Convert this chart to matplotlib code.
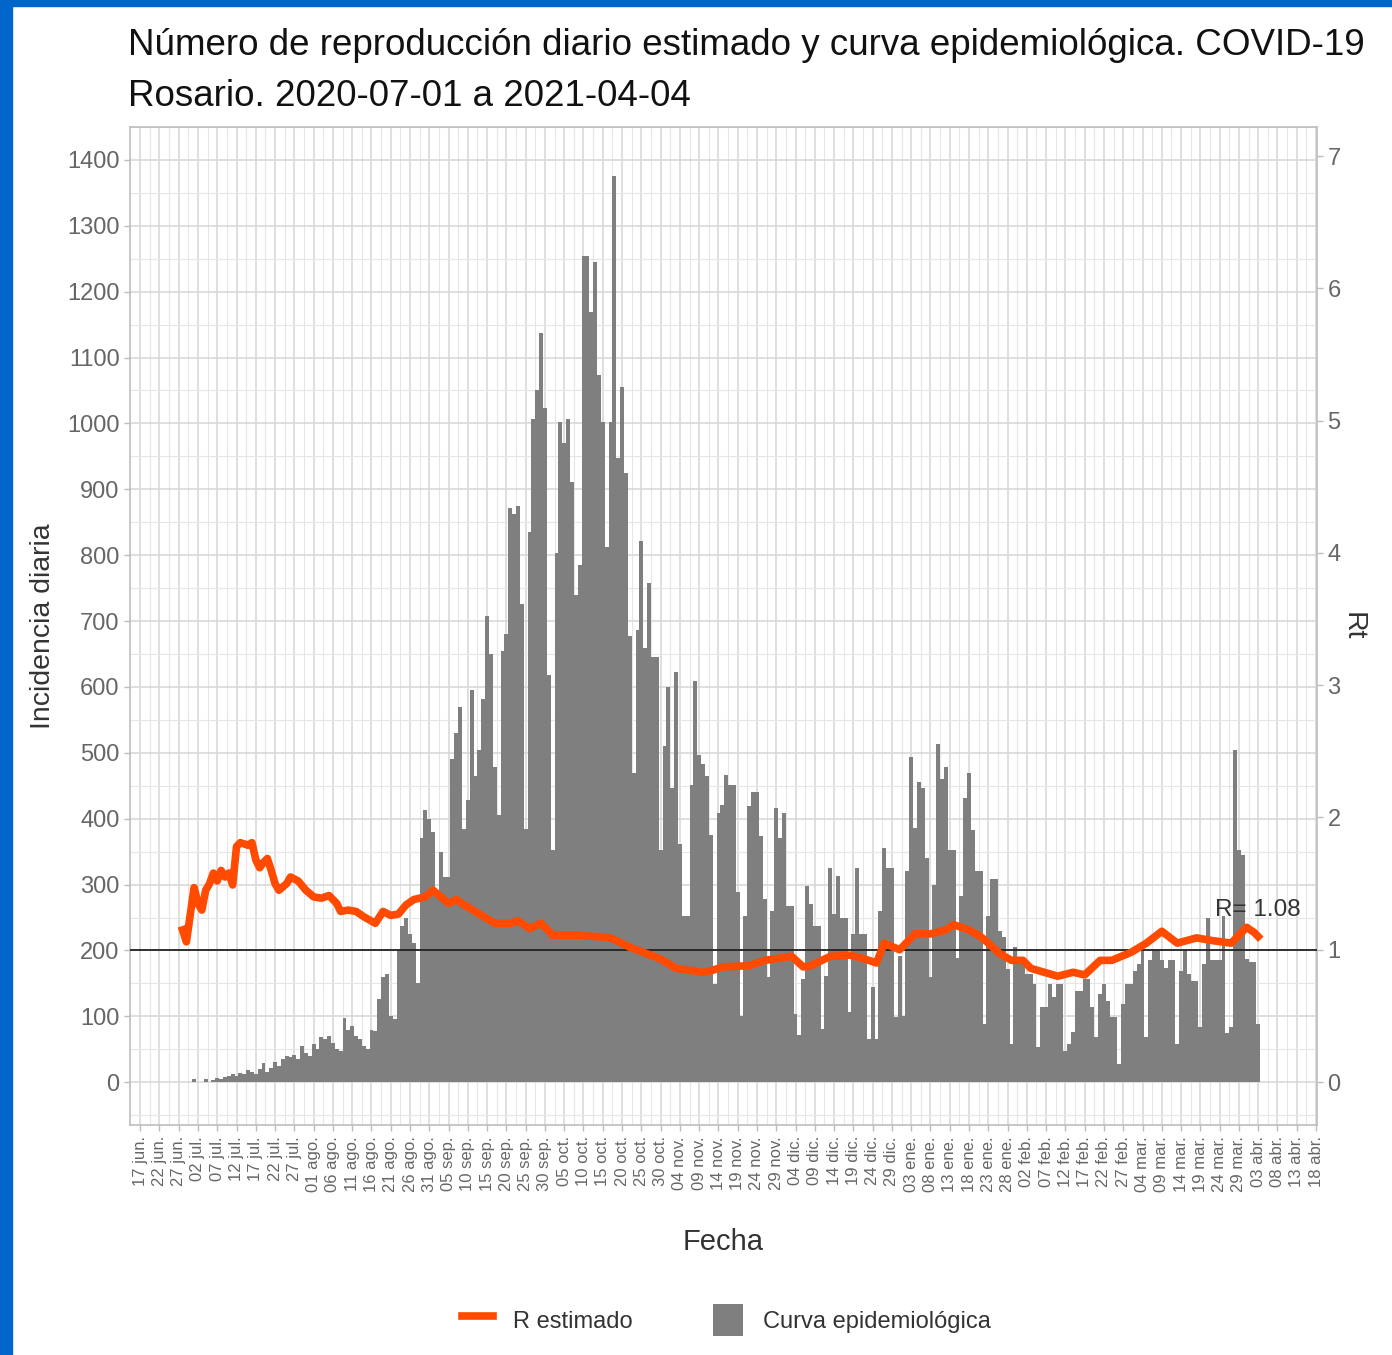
import matplotlib
matplotlib.use("Agg")
import matplotlib.pyplot as plt
from matplotlib.lines import Line2D
from matplotlib.patches import Patch, Rectangle
import pandas as pd

plt.rcParams['font.family'] = ['Liberation Sans', 'DejaVu Sans']

# datos
inicio = "2020-07-01"
casos = [
    # julio
    5, 0, 0, 5, 0, 4, 6, 5, 8, 10, 12, 10, 14, 12, 18, 15, 12, 20, 29, 15, 22, 30, 25, 35, 40, 38, 42, 35, 55, 45, 40,
    # agosto
    58, 50, 68, 65, 70, 60, 50, 48, 98, 80, 85, 70, 65, 55, 50, 80, 78, 126, 160, 165, 100, 96, 200, 237, 250, 225, 212, 150, 370, 413, 400,
    # septiembre
    380, 290, 350, 312, 311, 490, 530, 570, 384, 429, 596, 465, 505, 582, 708, 650, 478, 406, 654, 681, 871, 862, 875, 726, 384, 835, 1006, 1051, 1137, 1024,
    # octubre
    618, 352, 803, 1002, 970, 1006, 911, 740, 785, 1254, 1254, 1169, 1245, 1074, 1002, 812, 1002, 1376, 948, 1056, 925, 677, 469, 686, 821, 659, 758, 645, 645, 352, 510,
    # noviembre
    600, 447, 623, 361, 253, 253, 451, 609, 496, 483, 465, 375, 149, 409, 421, 466, 451, 451, 288, 101, 252, 419, 441, 441, 373, 278, 159, 260, 416, 371,
    # diciembre
    409, 268, 268, 104, 71, 157, 298, 270, 237, 237, 81, 162, 325, 255, 313, 250, 250, 106, 225, 325, 225, 225, 66, 144, 66, 260, 356, 325, 325, 99, 192,
    # enero
    101, 320, 494, 386, 456, 446, 340, 159, 300, 514, 461, 479, 353, 353, 189, 283, 431, 469, 383, 320, 320, 89, 253, 308, 308, 230, 220, 172, 58, 205, 185,
    # febrero
    185, 164, 164, 149, 54, 114, 114, 149, 129, 149, 149, 48, 58, 76, 139, 139, 157, 157, 114, 68, 134, 149, 124, 99, 99, 28, 119, 149,
    # marzo
    149, 169, 179, 200, 68, 185, 200, 200, 185, 174, 185, 185, 58, 169, 200, 164, 154, 154, 84, 179, 250, 185, 185, 185, 253, 74, 84, 505, 353, 345, 187,
    # abril
    182, 182, 89,
]

# R estimado: dias desde el inicio y valor
r_dia = [-3, -2, 0, 1, 2, 3, 4, 5, 6, 7, 8, 9, 10, 11, 12, 13, 14, 15, 16, 17, 18, 19, 20, 21, 22, 24, 25, 27, 29,
         31, 33, 35, 37, 38, 40, 42, 44, 47, 49, 51, 53, 55, 57, 60, 62, 64, 66, 68, 70, 74, 78, 82, 84, 87, 90,
         93, 100, 108, 113, 121, 125, 132, 134, 137, 144, 148, 155, 158, 160, 165, 170, 174, 177, 179, 183, 187,
         191, 195, 197, 201, 204, 206, 209, 212, 215, 217, 224, 228, 231, 235, 238, 243, 247, 251, 255, 260, 264,
         269, 273, 275, 276]
r_valor = [1.15, 1.06, 1.47, 1.35, 1.30, 1.45, 1.50, 1.58, 1.52, 1.60, 1.55, 1.58, 1.49, 1.78, 1.81, 1.80, 1.79, 1.81,
           1.68, 1.62, 1.66, 1.69, 1.60, 1.50, 1.45, 1.50, 1.55, 1.52, 1.45, 1.40, 1.39, 1.41, 1.35, 1.29, 1.30, 1.29,
           1.25, 1.20, 1.29, 1.26, 1.27, 1.34, 1.38, 1.40, 1.45, 1.40, 1.35, 1.38, 1.34, 1.27, 1.20, 1.20, 1.22, 1.16,
           1.20, 1.11, 1.11, 1.09, 1.02, 0.93, 0.86, 0.83, 0.84, 0.87, 0.88, 0.92, 0.95, 0.87, 0.88, 0.95, 0.96, 0.93,
           0.90, 1.05, 1.00, 1.12, 1.12, 1.15, 1.19, 1.15, 1.10, 1.05, 0.97, 0.92, 0.92, 0.86, 0.80, 0.83, 0.81, 0.92,
           0.92, 0.98, 1.05, 1.14, 1.05, 1.09, 1.07, 1.05, 1.17, 1.13, 1.10]
r_ultimo = 1.08

meses = ["ene.", "feb.", "mar.", "abr.", "may.", "jun.", "jul.", "ago.", "sep.", "oct.", "nov.", "dic."]

fechas = pd.date_range(inicio, periods=len(casos), freq="D")
r_fechas = pd.Timestamp(inicio) + pd.to_timedelta(r_dia, unit="D")
ticks = pd.date_range("2020-06-17", "2021-04-18", freq="5D")
ticks_menores = ticks[:-1] + pd.Timedelta(hours=60)
etiquetas = [f"{t.day:02d} {meses[t.month - 1]}" for t in ticks]

fig = plt.figure(figsize=(13.92, 13.55), dpi=100)
ax = fig.add_axes([0.0934, 0.1697, 0.8527, 0.7366])

gris_grid = '#D6D6D6'
ax.bar(fechas, casos, width=1.0, color='#7F7F7F', zorder=2)
ax.set_xlim(pd.Timestamp("2020-06-14 09:00"), pd.Timestamp("2021-04-18 06:00"))
ax.set_ylim(-65, 1444)
ax.set_xticks(ticks)
ax.set_xticklabels(etiquetas, rotation=90)
ax.set_xticks(ticks_menores, minor=True)
ax.set_yticks(range(0, 1401, 100))
ax.set_yticks(range(-50, 1451, 100), minor=True)
ax.grid(which='major', color=gris_grid, lw=1.1, zorder=0)
ax.grid(which='minor', color='#E6E6E6', lw=0.8, zorder=0)
ax.set_axisbelow(True)
for s in ax.spines.values():
    s.set_color('#BDBDBD')
    s.set_linewidth(1.2)
ax.tick_params(which='major', color='#BDBDBD', length=4, width=1, labelcolor='#666666', labelsize=17)
ax.tick_params(axis='x', labelsize=12, pad=4)
ax.tick_params(which='minor', length=0)
ax.set_xlabel("Fecha", fontsize=21, color='#333333', labelpad=26)
ax.set_ylabel("Incidencia diaria", fontsize=20.5, color='#333333', labelpad=8)

ax2 = ax.twinx()
ax2.set_ylim(-65 / 200, 1444 / 200)
ax2.set_yticks(range(0, 8))
for s in ax2.spines.values():
    s.set_visible(False)
ax2.tick_params(color='#BDBDBD', length=4, width=1, labelcolor='#666666', labelsize=17)
ax2.set_ylabel("Rt", fontsize=20.5, color='#333333', rotation=-90, labelpad=18)
ax2.axhline(1, color='#222222', lw=1.3, zorder=3)
ax2.plot(r_fechas, r_valor, color='#FF4A00', lw=5.5, solid_joinstyle='round', zorder=4)
ax2.text(r_fechas[-1], r_valor[-1] + 0.12, f"R= {r_ultimo}", ha='center', va='bottom',
         fontsize=17.5, color='#333333', zorder=5)

fig.text(0.092, 1 - 55 / 1355, "Número de reproducción diario estimado y curva epidemiológica. COVID-19",
         fontsize=26.5, color='#111111', va='baseline', ha='left')
fig.text(0.092, 1 - 106 / 1355, "Rosario. 2020-07-01 a 2021-04-04",
         fontsize=26.5, color='#111111', va='baseline', ha='left')

handles = [Line2D([], [], color='#FF4A00', lw=5.5), Patch(facecolor='#7F7F7F', edgecolor='none')]
fig.legend(handles, ["R estimado", "Curva epidemiológica"], loc='center', bbox_to_anchor=(0.522, 0.0258),
           ncol=2, frameon=False, fontsize=17, handlelength=1.3, handleheight=1.75,
           handletextpad=0.85, columnspacing=3.4, labelcolor='#333333')

# marco azul de la captura
fig.patches.append(Rectangle((0, 0), 12 / 1392, 1, transform=fig.transFigure, color='#0066CC', zorder=10))
fig.patches.append(Rectangle((0, 1 - 6 / 1355), 1, 6 / 1355, transform=fig.transFigure, color='#0066CC', zorder=10))

fig.savefig("out.png", dpi=100)
